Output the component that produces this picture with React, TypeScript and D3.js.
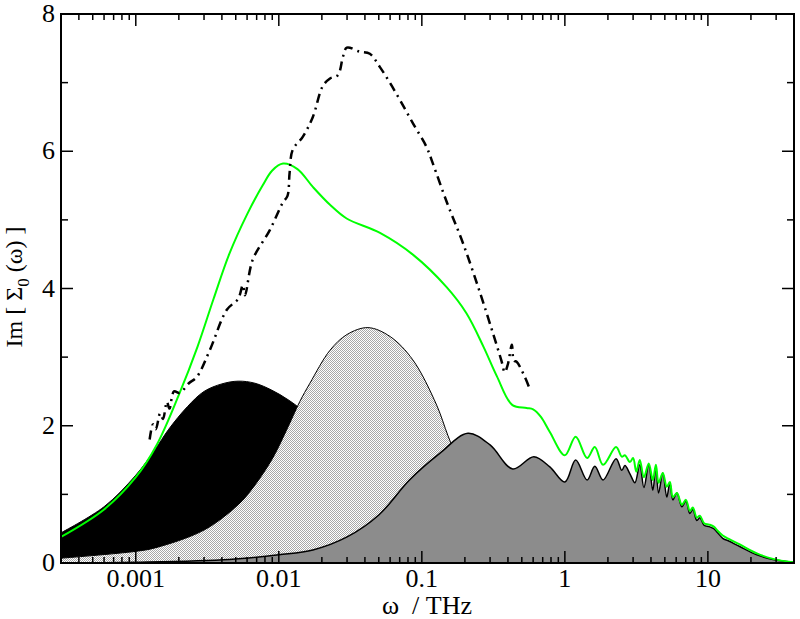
import React, { useEffect, useRef } from "react";
import * as d3 from "d3";

// values: [omega in THz, Im Sigma_0]
const peakBlack: [number, number][] = [
  [0.0003, 0.44], [0.0006, 0.82], [0.001, 1.28], [0.00136, 1.65], [0.0017, 1.95],
  [0.0023, 2.28], [0.003, 2.5], [0.004, 2.61], [0.0052, 2.65], [0.0068, 2.62], [0.0089, 2.52],
  [0.0116, 2.38], [0.015, 2.2], [0.02, 1.9], [0.03, 1.4], [0.05, 0.8], [0.08, 0.4], [0.15, 0.1],
  [0.3, 0.02], [0.6, 0.0],
];

const peakDotted: [number, number][] = [
  [0.0003, 0.07], [0.001, 0.17], [0.00136, 0.22], [0.003, 0.48], [0.0052, 0.85],
  [0.0065, 1.08], [0.0089, 1.5], [0.0114, 1.95], [0.014, 2.35], [0.0165, 2.62], [0.0228, 3.1],
  [0.03, 3.33], [0.042, 3.43], [0.06, 3.3], [0.0865, 2.96], [0.127, 2.3], [0.152, 1.86],
  [0.175, 1.55], [0.21, 1.2], [0.3, 0.6], [0.5, 0.2], [1.0, 0.03], [2.0, 0.0],
];

const peakGray: [number, number][] = [
  [0.0003, 0.0], [0.001, 0.01], [0.0045, 0.05], [0.01, 0.12], [0.0173, 0.19], [0.03, 0.38],
  [0.05, 0.7], [0.082, 1.21], [0.134, 1.6], [0.21, 1.89], [0.3, 1.72], [0.432, 1.37],
  [0.607, 1.55], [0.785, 1.4], [1.0, 1.18], [1.19, 1.5], [1.43, 1.21], [1.62, 1.41],
  [1.85, 1.21], [2.28, 1.52], [2.5, 1.35], [2.63, 1.42], [2.85, 1.3], [3.09, 1.17],
  [3.34, 1.43], [3.57, 1.1], [3.86, 1.43], [4.12, 1.06], [4.33, 1.4], [4.52, 1.02],
  [4.84, 1.31], [5.16, 0.96], [5.42, 1.17], [5.69, 0.92], [6.07, 1.02], [6.58, 0.82],
  [7.02, 0.9], [7.48, 0.72], [7.85, 0.78], [8.37, 0.62], [8.79, 0.66], [9.4, 0.55],
  [10.2, 0.53], [11.0, 0.5], [11.7, 0.44], [12.7, 0.36], [14.0, 0.32], [16.7, 0.24],
  [22.0, 0.12], [28.5, 0.05], [39.3, 0.01],
];

const totalGreen: [number, number][] = [
  [0.0003, 0.38], [0.0006, 0.78], [0.001, 1.25], [0.0014, 1.72], [0.002, 2.45],
  [0.0027, 3.15], [0.0035, 3.85], [0.0045, 4.5], [0.006, 5.08], [0.0077, 5.5],
  [0.009, 5.72], [0.0107, 5.82], [0.0135, 5.74], [0.0173, 5.48], [0.0228, 5.22], [0.0298, 5.02],
  [0.051, 4.81], [0.087, 4.49], [0.149, 4.02], [0.205, 3.64], [0.27, 3.15], [0.335, 2.72],
  [0.43, 2.3], [0.54, 2.26], [0.6, 2.24], [0.68, 2.13], [0.785, 1.91], [1.0, 1.57],
  [1.19, 1.84], [1.43, 1.53], [1.62, 1.69], [1.85, 1.43], [2.28, 1.69], [2.5, 1.55],
  [2.63, 1.57], [2.85, 1.47], [3.0, 1.53], [3.16, 1.33], [3.34, 1.5], [3.57, 1.25],
  [3.86, 1.45], [4.12, 1.21], [4.33, 1.43], [4.52, 1.17], [4.84, 1.31], [5.16, 1.11],
  [5.42, 1.18], [5.69, 0.96], [6.07, 1.02], [6.58, 0.85], [7.02, 0.92], [7.48, 0.76],
  [7.85, 0.81], [8.37, 0.66], [8.79, 0.69], [9.4, 0.58], [10.2, 0.56], [11.0, 0.53],
  [11.7, 0.47], [12.7, 0.4], [14.0, 0.35], [16.7, 0.27], [22.0, 0.14], [28.5, 0.06], [39.3, 0.01],
];

const simDashDot: [number, number][] = [
  [0.00125, 1.8], [0.00132, 2.02], [0.00138, 1.95], [0.00148, 2.18], [0.00155, 2.1],
  [0.00165, 2.35], [0.00172, 2.25], [0.00185, 2.5], [0.00203, 2.48], [0.00235, 2.62],
  [0.00267, 2.71], [0.00329, 3.1], [0.00433, 3.69], [0.0052, 3.85], [0.0056, 4.05],
  [0.0058, 3.9], [0.00657, 4.42], [0.00865, 4.85], [0.01066, 5.25], [0.0115, 5.35],
  [0.0119, 5.69], [0.0125, 6.02], [0.0147, 6.21], [0.0173, 6.5], [0.0203, 6.95],
  [0.0228, 7.06], [0.0259, 7.11], [0.0281, 7.38], [0.0299, 7.51], [0.0368, 7.45],
  [0.0433, 7.42], [0.0508, 7.23], [0.0597, 7.0], [0.0702, 6.75], [0.0865, 6.41],
  [0.108, 6.06], [0.119, 5.83], [0.15, 5.25], [0.194, 4.66], [0.255, 3.94], [0.314, 3.35],
  [0.36, 2.95], [0.38, 2.78], [0.4, 2.9], [0.426, 3.18], [0.44, 2.95], [0.461, 2.93],
  [0.525, 2.71], [0.56, 2.57],
];

const xTickValues = [0.001, 0.01, 0.1, 1, 10];
const xTickLabels = ["0.001", "0.01", "0.1", "1", "10"];
const yTickValues = [0, 2, 4, 6, 8];
const yMinorValues = [1, 3, 5, 7];

const W = 800, H = 619;
const margin = { top: 14, right: 6, bottom: 56, left: 61 };
const FONT = "'Liberation Serif', 'DejaVu Serif', serif";

export default function App() {
  const ref = useRef<SVGSVGElement>(null);

  useEffect(() => {
    const svg = d3.select(ref.current);
    svg.selectAll("*").remove();

    const x = d3.scaleLog().domain([0.0003, 40]).range([margin.left, W - margin.right]);
    const y = d3.scaleLinear().domain([0, 8]).range([H - margin.bottom, margin.top]);
    const x0 = margin.left, x1 = W - margin.right, y0 = H - margin.bottom, y1 = margin.top;

    const defs = svg.append("defs");
    const pat = defs.append("pattern").attr("id", "dots")
      .attr("width", 2).attr("height", 2).attr("patternUnits", "userSpaceOnUse");
    pat.append("rect").attr("width", 2).attr("height", 2).attr("fill", "#fff");
    pat.append("rect").attr("width", 1).attr("height", 1).attr("fill", "#a8a8a8");
    pat.append("rect").attr("x", 1).attr("y", 1).attr("width", 1).attr("height", 1).attr("fill", "#a8a8a8");
    defs.append("clipPath").attr("id", "plotclip").append("rect")
      .attr("x", x0).attr("y", y1).attr("width", x1 - x0).attr("height", y0 - y1);

    const curve = d3.curveCatmullRom.alpha(0.5);
    const area = d3.area<[number, number]>()
      .x(d => x(d[0])).y0(y(0)).y1(d => y(d[1])).curve(curve);
    const line = d3.line<[number, number]>()
      .x(d => x(d[0])).y(d => y(d[1])).curve(curve);

    const g = svg.append("g").attr("clip-path", "url(#plotclip)");

    g.append("path").attr("d", area(peakBlack)).attr("fill", "#000").attr("stroke", "#000").attr("stroke-width", 1);
    g.append("path").attr("d", area(peakDotted)).attr("fill", "url(#dots)");
    g.append("path").attr("d", line(peakDotted)).attr("fill", "none").attr("stroke", "#000").attr("stroke-width", 1);
    g.append("path").attr("d", area(peakGray)).attr("fill", "#8c8c8c");
    g.append("path").attr("d", line(peakGray)).attr("fill", "none").attr("stroke", "#000").attr("stroke-width", 1.5);
    g.append("path").attr("d", line(totalGreen)).attr("fill", "none").attr("stroke", "#00ff00").attr("stroke-width", 2);
    g.append("path").attr("d", line(simDashDot)).attr("fill", "none").attr("stroke", "#000")
      .attr("stroke-width", 2.5).attr("stroke-dasharray", "9,5,2,5");

    // ticks, xmgrace style: inward on all four sides
    const minorX: number[] = [];
    for (let e = -4; e <= 1; e++) {
      for (let m = 2; m <= 9; m++) {
        const v = m * Math.pow(10, e);
        if (v > 0.0003 && v < 40) minorX.push(v);
      }
    }
    const ax = svg.append("g").attr("stroke", "#000").attr("stroke-width", 1.5);
    minorX.forEach(v => {
      ax.append("line").attr("x1", x(v)).attr("x2", x(v)).attr("y1", y0).attr("y2", y0 - 6);
      ax.append("line").attr("x1", x(v)).attr("x2", x(v)).attr("y1", y1).attr("y2", y1 + 6);
    });
    xTickValues.forEach(v => {
      ax.append("line").attr("x1", x(v)).attr("x2", x(v)).attr("y1", y0).attr("y2", y0 - 12);
      ax.append("line").attr("x1", x(v)).attr("x2", x(v)).attr("y1", y1).attr("y2", y1 + 12);
    });
    yMinorValues.forEach(v => {
      ax.append("line").attr("x1", x0).attr("x2", x0 + 7).attr("y1", y(v)).attr("y2", y(v));
      ax.append("line").attr("x1", x1).attr("x2", x1 - 7).attr("y1", y(v)).attr("y2", y(v));
    });
    yTickValues.forEach(v => {
      ax.append("line").attr("x1", x0).attr("x2", x0 + 12).attr("y1", y(v)).attr("y2", y(v));
      ax.append("line").attr("x1", x1).attr("x2", x1 - 12).attr("y1", y(v)).attr("y2", y(v));
    });
    svg.append("rect").attr("x", x0).attr("y", y1).attr("width", x1 - x0).attr("height", y0 - y1)
      .attr("fill", "none").attr("stroke", "#000").attr("stroke-width", 2);

    const lab = svg.append("g").attr("font-family", FONT).attr("font-size", 26).attr("fill", "#000");
    xTickValues.forEach((v, i) => {
      lab.append("text").attr("x", x(v)).attr("y", y0 + 24).attr("text-anchor", "middle").text(xTickLabels[i]);
    });
    yTickValues.forEach(v => {
      lab.append("text").attr("x", x0 - 6).attr("y", y(v) + 8).attr("text-anchor", "end").text(String(v));
    });

    lab.append("text").attr("x", 427).attr("y", 614).attr("text-anchor", "middle").attr("font-size", 26)
      .attr("xml:space", "preserve").text("ω  / THz");

    const yt = lab.append("text").attr("transform", "translate(22,287) rotate(-90)")
      .attr("text-anchor", "middle").attr("font-size", 24).attr("xml:space", "preserve");
    yt.append("tspan").text("Im [ Σ");
    yt.append("tspan").attr("dy", 7).attr("font-size", 17).text("0");
    yt.append("tspan").attr("dy", -7).text(" (ω) ]");
  }, []);

  return (
    <svg ref={ref} width={W} height={H} style={{ position: "absolute", left: 0, top: 0, background: "#fff" }} />
  );
}
